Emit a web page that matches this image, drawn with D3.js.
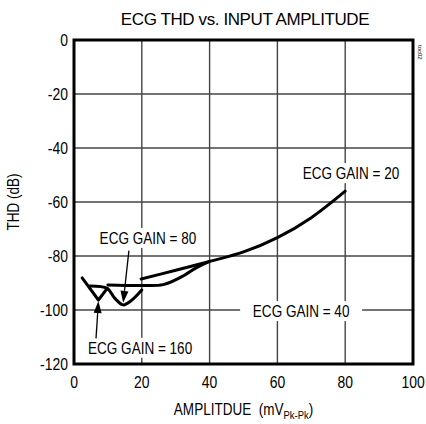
<!DOCTYPE html>
<html>
<head>
<meta charset="utf-8">
<script src="https://cdn.jsdelivr.net/npm/d3@7"></script>
<style>
  html, body { margin: 0; padding: 0; background: #fff; }
  svg { display: block; }
  text { font-family: "Liberation Sans", Arial, sans-serif; fill: #000; white-space: pre; }
</style>
</head>
<body>
<div id="chart"></div>
<script>
// Axis ticks
const ampTicks = [0, 20, 40, 60, 80, 100];
const thdTicks = [0, -20, -40, -60, -80, -100, -120];

// THD (dB) vs. input amplitude (mVp-p), one series per ECG gain setting
const gain160Amp = [2.4, 7.2, 9.8];
const gain160Thd = [-88.1, -96.3, -92.0];

const gain80Amp = [4.7, 9.8, 12.0, 14.5, 16.8, 20.0];
const gain80Thd = [-91.1, -92.0, -95.6, -98.1, -96.6, -92.6];

const gain40Amp = [10, 20, 26.3, 31.3, 36.3, 40];
const gain40Thd = [-90.7, -90.9, -90.6, -88.0, -84.2, -82.0];

const gain20Amp = [19.8, 30, 40, 50, 60, 70, 80];
const gain20Thd = [-88.5, -85.3, -82.0, -78.5, -73.2, -65.8, -56.0];

// Callout labels (centre position in data units)
const labelText = ["ECG GAIN = 20", "ECG GAIN = 40", "ECG GAIN = 80", "ECG GAIN = 160"];
const labelAmp  = [81.7, 67.0, 21.8, 19.5];
const labelThd  = [-49.3, -100.4, -73.3, -114.0];

const W = 426, H = 424;
const margin = { left: 74, right: 13, top: 40, bottom: 60 };
const NARROW = 0.82;

const svg = d3.select("#chart").append("svg")
  .attr("width", W).attr("height", H);

const x = d3.scaleLinear().domain([0, 100]).range([margin.left, W - margin.right]);
const y = d3.scaleLinear().domain([-120, 0]).range([H - margin.bottom, margin.top]);

// Horizontally condensed text helper
function narrowText(sel, px, py, str, size, anchor) {
  return sel.append("text")
    .attr("transform", `translate(${px},${py}) scale(${NARROW},1)`)
    .attr("text-anchor", anchor || "middle")
    .attr("font-size", size)
    .text(str);
}

// Grid
const grid = svg.append("g");
grid.selectAll("line.v").data(ampTicks.slice(1, -1)).join("line")
  .attr("x1", d => x(d)).attr("x2", d => x(d))
  .attr("y1", y(0)).attr("y2", y(-120))
  .attr("stroke", "#444").attr("stroke-width", 1.4);
grid.selectAll("line.h").data(thdTicks.slice(1, -1)).join("line")
  .attr("y1", d => y(d)).attr("y2", d => y(d))
  .attr("x1", x(0)).attr("x2", x(100))
  .attr("stroke", "#444").attr("stroke-width", 1.4);

// White boxes behind the callout labels
const boxW = [106, 122, 106, 112];
const boxH = 20;
labelText.forEach((s, i) => {
  svg.append("rect")
    .attr("x", x(labelAmp[i]) - boxW[i] / 2)
    .attr("y", y(labelThd[i]) - boxH / 2)
    .attr("width", boxW[i]).attr("height", boxH)
    .attr("fill", "#fff");
});

// Curves
const line = d3.line().x(d => x(d[0])).y(d => y(d[1]));
const smooth = d3.line().x(d => x(d[0])).y(d => y(d[1])).curve(d3.curveCatmullRom.alpha(0.5));
const zip = (a, b) => a.map((v, i) => [v, b[i]]);

const curves = svg.append("g").attr("fill", "none").attr("stroke", "#000")
  .attr("stroke-width", 3).attr("stroke-linejoin", "round").attr("stroke-linecap", "round");
curves.append("path").attr("d", line(zip(gain160Amp, gain160Thd)));
curves.append("path").attr("d", smooth(zip(gain80Amp, gain80Thd)));
curves.append("path").attr("d", smooth(zip(gain40Amp, gain40Thd)));
curves.append("path").attr("d", smooth(zip(gain20Amp, gain20Thd)));

// Plot frame
svg.append("rect")
  .attr("x", x(0)).attr("y", y(0))
  .attr("width", x(100) - x(0)).attr("height", y(-120) - y(0))
  .attr("fill", "none").attr("stroke", "#000").attr("stroke-width", 3);

// Callout labels
labelText.forEach((s, i) => {
  narrowText(svg, x(labelAmp[i]), y(labelThd[i]) + 6, s, 16.5, "middle");
});

// Pointer arrows to the minima of the GAIN = 80 and GAIN = 160 curves
function arrow(fromX, fromY, tipX, tipY) {
  const ang = Math.atan2(tipY - fromY, tipX - fromX);
  const len = 12, half = 4;
  const bx = tipX - len * Math.cos(ang), by = tipY - len * Math.sin(ang);
  svg.append("line")
    .attr("x1", fromX).attr("y1", fromY).attr("x2", bx).attr("y2", by)
    .attr("stroke", "#000").attr("stroke-width", 1.3);
  const px = -Math.sin(ang), py = Math.cos(ang);
  svg.append("path")
    .attr("d", `M${tipX},${tipY} L${bx + px * half},${by + py * half} L${bx - px * half},${by - py * half} Z`)
    .attr("fill", "#000");
}
const i80 = gain80Thd.indexOf(d3.min(gain80Thd));
arrow(x(16.2), y(-78.0), x(gain80Amp[i80]), y(gain80Thd[i80]) - 2);
const i160 = gain160Thd.indexOf(d3.min(gain160Thd));
arrow(x(6.5), y(-110.5), x(gain160Amp[i160]), y(gain160Thd[i160]) + 1);

// Tick labels
ampTicks.forEach(d => narrowText(svg, x(d), y(-120) + 24, d, 17, "middle"));
thdTicks.forEach(d => narrowText(svg, x(0) - 6, y(d) + 6, d, 17, "end"));

// Axis titles
const xt = svg.append("text")
  .attr("transform", `translate(${x(50)},${H - 9}) scale(${NARROW},1)`)
  .attr("text-anchor", "middle")
  .attr("font-size", 16.5);
xt.append("tspan").text("AMPLITDUE\u00a0\u00a0(mV");
xt.append("tspan").attr("font-size", 11.5).attr("dy", 4).text("Pk-Pk");
xt.append("tspan").attr("dy", -4).text(")");

svg.append("text")
  .attr("transform", `translate(19,${y(-60)}) rotate(-90) scale(${NARROW},1)`)
  .attr("text-anchor", "middle")
  .attr("font-size", 16.5)
  .text("THD (dB)");

// Chart title
svg.append("text")
  .attr("x", 245).attr("y", 25)
  .attr("text-anchor", "middle")
  .attr("font-size", 17)
  .attr("letter-spacing", "-0.4")
  .text("ECG THD vs. INPUT AMPLITUDE");

// Figure code
svg.append("text")
  .attr("transform", "translate(418,45) rotate(90)")
  .attr("font-size", 6)
  .text("toc02");
</script>
</body>
</html>
